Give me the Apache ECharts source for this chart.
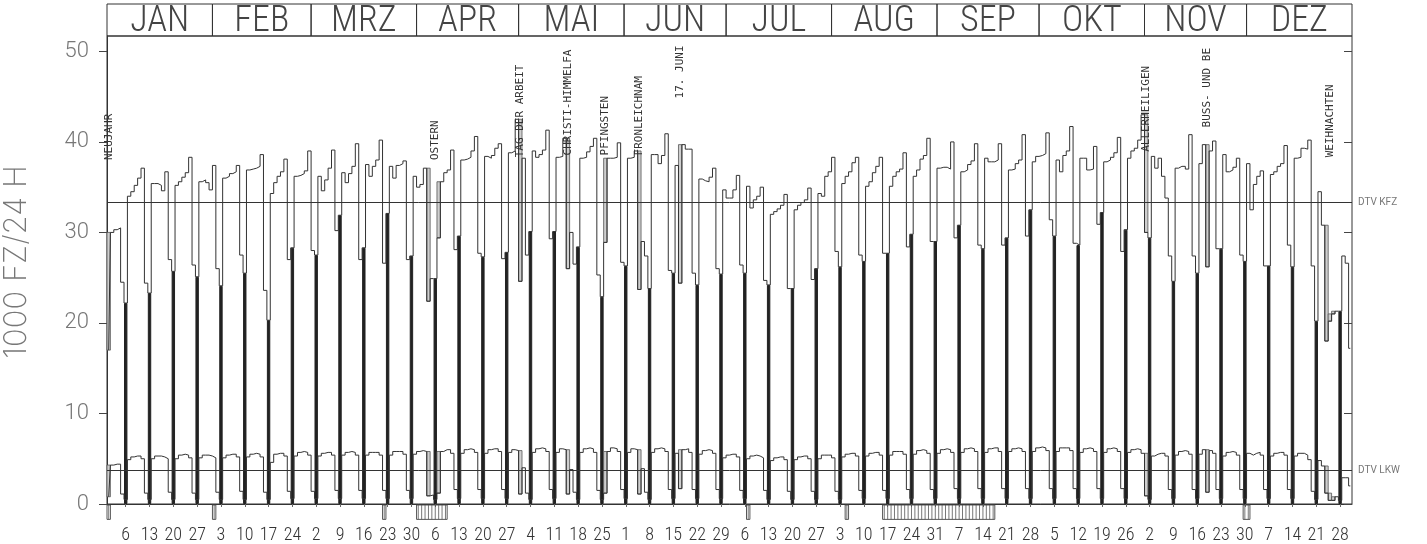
<!DOCTYPE html>
<html><head><meta charset="utf-8">
<script src="https://cdn.jsdelivr.net/npm/echarts@6/dist/echarts.min.js"></script>
<style>html,body{margin:0;padding:0;background:#fff}#c{width:1427px;height:544px}</style>
</head><body><div id="c"></div>
<script>
const monthNames = ['JAN','FEB','MRZ','APR','MAI','JUN','JUL','AUG','SEP','OKT','NOV','DEZ'];
const monthLengths = [31,29,31,30,31,30,31,31,30,31,30,31];
const yTicks = [0,10,20,30,40,50];
const yAxisName = '1000 FZ/24 H';
const dtvKfz = 33.3;
const dtvLkw = 3.7;
// daily totals, 1000 vehicles / 24 h (1980, Jan 1 = Tuesday)
const kfz = [
17.0,30.0,30.3,30.5,24.5,22.2,
34.0,34.5,35.2,36.0,37.1,24.4,23.3,
35.4,35.4,35.2,34.6,36.7,27.0,25.7,
35.2,35.6,36.1,36.6,38.3,26.4,25.1,
35.6,35.8,35.5,34.7,37.4,26.0,24.1,
36.0,36.2,36.5,36.7,37.4,27.5,25.5,
36.9,37.0,37.1,37.3,38.6,23.6,20.3,
34.3,35.5,36.2,36.7,38.1,27.0,28.3,
36.2,36.3,36.5,36.8,39.0,28.0,27.5,
36.2,34.6,35.8,37.1,39.1,30.2,31.9,
36.6,35.5,36.5,37.3,39.8,27.0,28.3,
37.5,36.2,37.3,38.0,40.2,26.6,32.1,
37.3,36.0,37.4,37.6,37.9,27.0,27.4,
36.2,35.0,35.3,37.1,22.4,24.9,24.9,
29.4,35.6,36.6,36.9,39.1,28.1,29.6,
38.0,38.1,38.3,39.0,40.6,27.7,27.3,
38.4,38.2,38.5,39.3,39.8,27.1,27.8,
38.8,39.0,42.5,24.6,38.2,27.5,30.1,
39.0,38.3,38.6,39.1,41.3,29.3,30.1,
38.3,38.4,40.4,26.0,30.0,26.5,28.4,
38.2,38.3,38.9,39.5,40.4,25.3,22.9,
28.9,38.2,38.2,38.3,39.9,26.7,26.3,
38.2,38.3,39.0,23.7,29.0,27.4,23.8,
38.6,38.6,37.6,38.5,40.9,25.8,25.5,
37.4,24.4,39.7,39.2,39.2,25.5,24.2,
35.9,35.7,35.6,36.1,37.1,26.0,25.4,
34.7,33.8,33.8,34.7,36.3,26.4,25.5,
35.1,32.7,33.6,34.0,35.0,24.7,24.2,
32.0,32.3,32.6,33.0,34.2,23.8,23.8,
32.5,33.0,33.3,33.6,34.9,24.8,26.0,
34.3,34.0,36.2,36.7,38.3,27.9,26.2,
35.4,36.2,36.7,37.7,38.3,27.5,26.8,
35.1,35.6,36.6,37.3,38.3,27.7,27.7,
35.1,36.2,36.7,37.0,38.8,28.4,29.8,
36.2,36.9,38.1,38.5,40.4,29.0,29.0,
37.1,37.2,37.2,37.0,40.0,29.4,30.8,
36.7,36.9,37.5,37.9,39.8,28.6,28.2,
38.2,37.8,37.8,38.0,39.8,28.6,29.4,
36.9,37.0,37.6,38.0,40.8,29.6,32.5,
37.8,38.4,38.5,38.7,41.0,31.4,29.6,
38.0,36.7,38.5,39.0,41.7,28.8,28.6,
38.2,38.2,36.9,37.0,39.5,30.9,32.2,
37.8,38.0,38.3,38.8,40.5,27.9,30.3,
38.2,39.0,39.3,40.2,43.0,30.0,29.4,
38.4,37.1,38.2,36.2,33.8,27.4,24.6,
37.1,37.3,37.3,37.0,40.8,27.4,25.5,
37.6,39.7,26.2,39.0,40.1,28.2,28.2,
38.6,36.7,36.9,37.2,38.2,27.5,26.8,
37.6,32.5,35.3,36.2,36.8,26.3,26.3,
36.4,36.7,37.3,37.6,39.6,28.6,26.2,
38.2,38.3,39.3,39.2,40.2,26.3,20.2,
34.5,30.8,18.0,20.2,21.0,21.3,21.3,
27.4,26.6,17.2
];
// daily trucks (LKW), 1000 / 24 h
const lkw = [
0.8,4.3,4.4,4.4,1.1,0.5,
4.9,5.2,5.3,5.3,5.0,1.2,0.5,
5.0,5.3,5.3,5.2,5.0,1.3,0.5,
5.0,5.4,5.5,5.4,5.1,1.2,0.5,
5.1,5.4,5.4,5.3,5.1,1.3,0.5,
5.1,5.4,5.5,5.5,5.2,1.4,0.5,
5.2,5.5,5.6,5.5,5.2,1.3,0.5,
4.6,5.5,5.6,5.6,5.3,1.4,0.6,
5.3,5.7,5.8,5.7,5.4,1.4,0.6,
5.3,5.6,5.7,5.7,5.4,1.5,0.6,
5.4,5.7,5.8,5.7,5.4,1.5,0.6,
5.4,5.7,5.7,5.7,5.4,1.5,0.6,
5.4,5.8,5.8,5.8,5.5,1.5,0.6,
5.5,5.8,5.9,5.8,0.9,1.0,0.5,
1.2,5.8,6.0,6.0,5.6,1.6,0.6,
5.6,6.0,6.1,6.0,5.7,1.6,0.6,
5.6,6.0,6.1,6.1,5.8,1.6,0.6,
5.7,6.0,5.9,1.1,4.0,1.2,0.5,
5.7,6.1,6.2,6.1,5.8,1.6,0.6,
5.7,6.1,6.0,1.1,3.8,1.3,0.5,
5.7,6.1,6.2,6.1,5.7,1.5,0.5,
1.2,5.8,6.2,6.1,5.8,1.6,0.6,
5.7,6.1,6.0,1.1,3.9,1.3,0.5,
5.7,6.1,6.2,6.1,5.8,1.6,0.6,
5.6,1.7,6.0,6.1,5.7,1.6,0.6,
5.5,5.9,6.0,5.9,5.6,1.6,0.6,
5.1,5.4,5.5,5.5,5.2,1.5,0.6,
5.0,5.3,5.4,5.3,5.1,1.5,0.5,
4.8,5.1,5.2,5.2,4.9,1.4,0.5,
4.9,5.2,5.3,5.3,5.0,1.4,0.5,
5.0,5.4,5.4,5.4,5.1,1.4,0.5,
5.2,5.5,5.6,5.6,5.3,1.5,0.6,
5.3,5.6,5.7,5.7,5.4,1.5,0.6,
5.4,5.8,5.8,5.8,5.5,1.6,0.6,
5.5,5.9,6.0,5.9,5.6,1.6,0.6,
5.6,6.0,6.1,6.0,5.7,1.7,0.6,
5.7,6.1,6.2,6.1,5.8,1.7,0.6,
5.7,6.1,6.2,6.2,5.8,1.7,0.6,
5.8,6.1,6.2,6.1,5.8,1.7,0.6,
5.8,6.2,6.3,6.2,5.9,1.7,0.6,
5.8,6.2,6.2,6.2,5.9,1.7,0.6,
5.7,6.1,6.2,6.1,5.8,1.7,0.6,
5.7,6.1,6.2,6.1,5.8,1.7,0.6,
5.7,6.0,6.1,6.0,5.6,0.9,0.5,
5.3,5.5,5.6,5.6,5.3,1.6,0.6,
5.4,5.8,5.9,5.8,5.5,1.6,0.6,
5.5,6.0,1.3,5.9,5.6,1.6,0.6,
5.3,5.7,5.8,5.7,5.4,1.6,0.6,
5.6,5.4,5.6,5.7,5.4,1.6,0.6,
5.3,5.6,5.7,5.7,5.4,1.6,0.6,
5.3,5.6,5.6,5.4,4.9,1.4,0.5,
4.8,4.2,1.2,0.4,0.4,0.8,0.4,
2.9,2.9,2.0
];
// public holidays (day of year)
const holidays = [1,95,98,122,136,147,157,169,306,324,359,360,361];
// holiday captions: [day of year, caption, value at caption start]
const holidayLabels = [
  [1,'NEUJAHR',38.0],[97,'OSTERN',38.0],[122,'TAG DER ARBEIT',38.3],
  [136,'CHRISTI-HIMMELFA',38.5],[147,'PFINGSTEN',38.5],[157,'FRONLEICHNAM',38.5],
  [169,'17. JUNI',44.8],[306,'ALLERHEILIGEN',38.9],[324,'BUSS- UND BE',41.6],
  [360,'WEIHNACHTEN',38.3]
];
// school holiday periods [first day, last day]
const schoolHolidays = [[1,1],[32,32],[82,82],[92,100],[189,189],[218,218],[229,261],[335,336]];

const F_COND = "'Roboto Condensed', sans-serif";
const F_YLAB = "Roboto, sans-serif";
const F_NAME = "Inter, sans-serif";

// derived day-of-month and weekday
const dayOfMonth = [];
monthLengths.forEach(n => { for (let d = 1; d <= n; d++) dayOfMonth.push(String(d)); });
const isSunday = dayOfMonth.map((_, i) => (i + 1) % 7 === 6);
const monthStart = [];
monthLengths.reduce((acc, n) => { monthStart.push(acc); return acc + n; }, 0);

const chart = echarts.init(document.getElementById('c'), null, {renderer: 'canvas'});

const bandRect = (api, idx) => {
  const w = api.size([1, 0])[0];
  return [api.coord([idx, 0])[0] - w / 2, w];
};

const option = {
  animation: false,
  backgroundColor: '#fff',
  grid: [
    {left: 107, right: 75, top: 36, bottom: 40, show: true, borderColor: '#333', borderWidth: 1},
    {left: 107, right: 75, top: 4, height: 32}
  ],
  xAxis: [
    {
      type: 'category', gridIndex: 0, data: dayOfMonth, boundaryGap: true,
      axisLine: {show: true, lineStyle: {color: '#333', width: 1}},
      axisTick: {show: true, alignWithLabel: true, length: 3, interval: (i) => isSunday[i], lineStyle: {color: '#666'}},
      axisLabel: {interval: (i) => isSunday[i], margin: 22, fontSize: 18, fontWeight: 300, color: '#333', fontFamily: F_COND},
      splitLine: {show: false}
    },
    {type: 'value', gridIndex: 1, min: 0, max: 366, show: false}
  ],
  yAxis: [
    {
      type: 'value', gridIndex: 0, min: 0, max: 51.7,
      axisLine: {show: true, lineStyle: {color: '#333'}},
      axisTick: {show: true, length: 8, customValues: yTicks, lineStyle: {color: '#444'}},
      axisLabel: {customValues: yTicks, margin: 18, fontSize: 22, fontWeight: 300, color: '#777', fontFamily: F_YLAB},
      splitLine: {show: false}
    },
    {
      type: 'value', gridIndex: 0, min: 0, max: 51.7,
      axisLine: {show: false},
      axisTick: {show: true, inside: true, length: 8, customValues: yTicks, lineStyle: {color: '#444'}},
      axisLabel: {show: false}, splitLine: {show: false}
    },
    {type: 'value', gridIndex: 1, min: 0, max: 1, show: false}
  ],
  graphic: [{
    type: 'text', x: 17, y: 262, rotation: Math.PI / 2,
    style: {text: yAxisName, align: 'center', verticalAlign: 'middle', font: '200 31px ' + F_NAME, fill: '#777'}
  }],
  series: [
    {
      name: 'header', type: 'custom', xAxisIndex: 1, yAxisIndex: 2, clip: false,
      data: monthNames.map((n, i) => [monthStart[i], monthStart[i] + monthLengths[i]]),
      encode: {x: [0, 1]},
      renderItem: (params, api) => {
        const p0 = api.coord([api.value(0), 1]);
        const p1 = api.coord([api.value(1), 0]);
        return {type: 'group', children: [
          {type: 'rect', shape: {x: p0[0], y: p0[1], width: p1[0] - p0[0], height: p1[1] - p0[1]},
           style: {fill: 'none', stroke: '#333', lineWidth: 1}},
          {type: 'text', x: (p0[0] + p1[0]) / 2, y: (p0[1] + p1[1]) / 2 + 2,
           style: {text: monthNames[params.dataIndex], align: 'center', verticalAlign: 'middle',
                   font: '300 36px ' + F_COND, fill: '#444'}}
        ]};
      }
    },
    {
      name: 'Sonntag', type: 'bar', xAxisIndex: 0, yAxisIndex: 0, barWidth: '100%',
      data: kfz.map((v, i) => isSunday[i] ? v : '-'),
      itemStyle: {color: '#222', borderColor: '#222', borderWidth: 1}, z: 2
    },
    {
      name: 'Feiertag', type: 'custom', xAxisIndex: 0, yAxisIndex: 0, z: 3,
      data: holidays.flatMap(d => {
        const i = d - 1;
        const nb = (arr) => Math.max(i > 0 ? arr[i - 1] : 0, i < arr.length - 1 ? arr[i + 1] : 0);
        return [[i, kfz[i], nb(kfz)], [i, lkw[i], nb(lkw)]];
      }),
      encode: {x: 0, y: [1, 2]},
      renderItem: (params, api) => {
        const [x, w] = bandRect(api, api.value(0));
        const lo = api.coord([api.value(0), api.value(1)])[1];
        const hi = api.coord([api.value(0), api.value(2)])[1];
        return {type: 'rect', shape: {x: x, y: hi, width: w, height: lo - hi},
                style: {fill: '#cfcfcf', stroke: '#555', lineWidth: 0.8}};
      }
    },
    {
      name: 'KFZ', type: 'line', step: 'middle', xAxisIndex: 0, yAxisIndex: 0, data: kfz,
      symbol: 'none', lineStyle: {color: '#333', width: 1}, z: 4,
      markLine: {
        silent: true, symbol: 'none',
        lineStyle: {color: '#333', width: 1, type: 'solid'},
        label: {position: 'end', formatter: '{b}', fontSize: 10, color: '#777', fontFamily: F_YLAB, distance: 6},
        data: [{name: 'DTV KFZ', yAxis: dtvKfz}, {name: 'DTV LKW', yAxis: dtvLkw}]
      }
    },
    {
      name: 'LKW', type: 'line', step: 'middle', xAxisIndex: 0, yAxisIndex: 0, data: lkw,
      symbol: 'none', lineStyle: {color: '#333', width: 1}, z: 4
    },
    {
      name: 'Ferien', type: 'custom', xAxisIndex: 0, yAxisIndex: 0, clip: false, z: 3,
      data: schoolHolidays.map(r => [r[0] - 1, r[1] - 1]),
      encode: {x: [0, 1]},
      renderItem: (params, api) => {
        const s = api.value(0), e = api.value(1);
        const [x0, w] = bandRect(api, s);
        const x1 = bandRect(api, e)[0] + w;
        const y0 = api.coord([s, 0])[1] + 1;
        const y1 = api.coord([s, -1.7])[1];
        const children = [{type: 'rect', shape: {x: x0, y: y0, width: x1 - x0, height: y1 - y0},
          style: {fill: 'none', stroke: '#444', lineWidth: 0.9}}];
        for (let i = s; i <= e; i++) {
          const xb = bandRect(api, i)[0] + w / 2;
          children.push({type: 'line', shape: {x1: xb, y1: y0, x2: xb, y2: y1}, style: {stroke: '#555', lineWidth: 0.8}});
        }
        return {type: 'group', children};
      }
    },
    {
      name: 'Feiertagsnamen', type: 'custom', xAxisIndex: 0, yAxisIndex: 0, clip: false, z: 6,
      data: holidayLabels.map(h => [h[0] - 1, h[2]]),
      encode: {x: 0, y: 1},
      renderItem: (params, api) => {
        const p = api.coord([api.value(0), api.value(1)]);
        return {type: 'text', x: p[0], y: p[1], rotation: Math.PI / 2,
          style: {text: holidayLabels[params.dataIndex][1], align: 'left', verticalAlign: 'middle',
                  font: '11px "DejaVu Sans Mono", monospace', fill: '#333'}};
      }
    }
  ]
};
chart.setOption(option);
</script></body></html>
